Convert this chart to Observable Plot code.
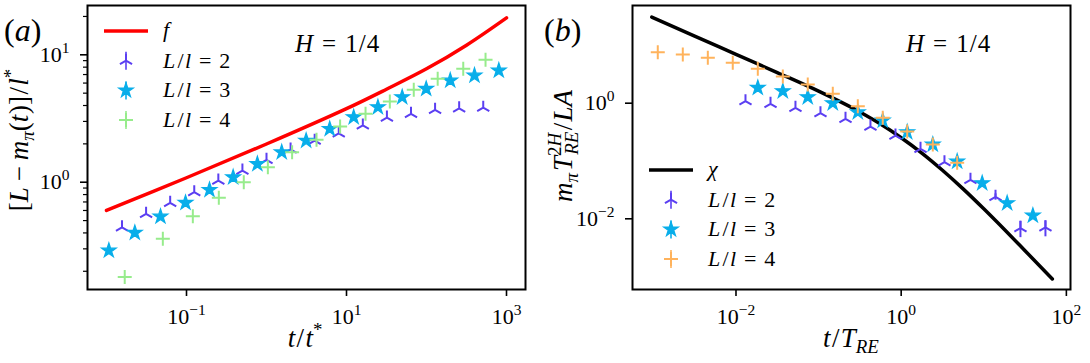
<!DOCTYPE html>
<html><head><meta charset="utf-8">
<script src="https://cdn.jsdelivr.net/npm/d3@7"></script>
<script src="https://cdn.jsdelivr.net/npm/@observablehq/plot@0.6"></script>
<style>
body{margin:0;background:#fff;}
#wrap{position:relative;width:1090px;height:363px;overflow:hidden;background:#fff;}
#wrap > svg{position:absolute;top:0;overflow:visible;}
</style></head><body><div id="wrap"></div>
<script>
const FONT = "'Liberation Serif','DejaVu Serif',serif";
const PURPLE = "#5b3ff2", BLUE = "#08aeea", GREEN = "#97ec8c", ORANGE = "#ffb35c", RED = "#ff0000";

// ---------- Panel (a) data ----------
const fX = [0.01, 0.1, 1, 10, 31.6, 100, 316, 1000];
const fY = [0.600, 1.084, 1.995, 3.78, 5.37, 7.76, 11.9, 19.5];
const a2X = [0.015625, 0.03125, 0.0625, 0.125, 0.25, 0.5, 1, 2, 4, 8, 16, 32, 64, 128, 256, 512];
const a2Y = [0.443, 0.565, 0.689, 0.835, 1.03, 1.235, 1.50, 1.81, 2.12, 2.42, 2.79, 3.22, 3.44, 3.70, 3.80, 3.85];
const a3X = [0.0107, 0.0226, 0.0473, 0.0972, 0.194, 0.383, 0.769, 1.55, 3.13, 6.17, 12.3, 24.7, 49.7, 99.1, 198, 398, 802];
const a3Y = [0.291, 0.401, 0.538, 0.689, 0.871, 1.094, 1.39, 1.72, 2.12, 2.62, 3.24, 3.88, 4.65, 5.41, 6.29, 6.88, 7.53];
const a4X = [0.0169, 0.0506, 0.120, 0.2535, 0.520, 1.04, 2.09, 4.22, 8.32, 17.3, 34.8, 69.3, 138, 288, 547];
const a4Y = [0.180, 0.360, 0.541, 0.755, 1.00, 1.31, 1.72, 2.15, 2.74, 3.44, 4.30, 5.31, 6.48, 7.76, 9.14];

// ---------- Panel (b) data ----------
const chiX = [0.000955, 0.00316, 0.01, 0.0316, 0.1, 0.316, 0.562, 1, 1.778, 3.16, 5.62, 10, 17.78, 31.6, 67.6];
const chiY = [30.8, 14.45, 7.0, 3.39, 1.613, 0.704, 0.4355, 0.2527, 0.1372, 0.0692, 0.03293, 0.01488, 0.00652, 0.002803, 0.000912];
const b2X = [0.01303, 0.02618, 0.05248, 0.1054, 0.2118, 0.4246, 0.853, 1.714, 3.342, 6.90, 13.87, 27.8, 55.8];
const b2Y = [1.084, 0.977, 0.832, 0.671, 0.537, 0.395, 0.276, 0.1626, 0.0953, 0.0473, 0.0240, 0.00692, 0.00708];
const b2Err = [0, 0, 0, 0, 0, 0, 0, 0, 0, 0, 0.003, 0.0022, 0.0022];
const b3X = [0.01837, 0.0369, 0.07396, 0.1486, 0.2985, 0.5984, 1.183, 2.415, 4.764, 9.57, 19.19, 39.3];
const b3Y = [1.845, 1.614, 1.27, 1.0, 0.698, 0.502, 0.315, 0.1928, 0.098, 0.0413, 0.01862, 0.0114];
const b4X = [0.00113, 0.00227, 0.00456, 0.00914, 0.01837, 0.0369, 0.07396, 0.1486, 0.2985, 0.5984, 1.183, 2.415, 4.764];
const b4Y = [7.62, 6.97, 6.10, 5.00, 3.94, 2.90, 2.11, 1.455, 0.887, 0.558, 0.3236, 0.1928, 0.0931];

// ---------- ticks ----------
const xTicksA = [0.1, 10, 1000];
const yTicksA = [1, 10];
const yMinorA = [0.2, 0.3, 0.4, 0.5, 0.6, 0.7, 0.8, 0.9, 2, 3, 4, 5, 6, 7, 8, 9, 20];
const xTicksB = [0.01, 1, 100];
const yTicksB = [0.01, 1];

// ---------- symbols ----------
const triUp = {draw(ctx, size) {const r = Math.sqrt(size / Math.PI);
  ctx.moveTo(0, 0); ctx.lineTo(0, -r); ctx.moveTo(0, 0); ctx.lineTo(-r * 0.866, r * 0.5);
  ctx.moveTo(0, 0); ctx.lineTo(r * 0.866, r * 0.5);}};
const plusS = {draw(ctx, size) {const r = Math.sqrt(size / Math.PI);
  ctx.moveTo(-r, 0); ctx.lineTo(r, 0); ctx.moveTo(0, -r); ctx.lineTo(0, r);}};

const expFmt = d => "10^" + String(Math.round(Math.log10(d))).replace("-", "\u2212");

function axes(xT, yT, minor) {
  const m = [
    Plot.axisX(xT, {anchor: "bottom", tickSize: 7, tickPadding: 12, tickFormat: expFmt, label: null, strokeWidth: 1.6, fontSize: 22}),
    Plot.axisY(yT, {anchor: "left", tickSize: 7, tickPadding: 11, tickFormat: expFmt, label: null, strokeWidth: 1.6, fontSize: 22})
  ];
  if (minor) m.push(Plot.axisY(minor, {anchor: "left", tickSize: 4, tickFormat: () => "", label: null, strokeWidth: 1.2}));
  return m;
}

const common = {width: 545, height: 363, marginLeft: 87, marginRight: 20, marginTop: 5, marginBottom: 74,
  style: {fontFamily: FONT, fontSize: "22px", color: "black", background: "transparent", overflow: "visible"}};

const plotA = Plot.plot({...common,
  x: {type: "log", domain: [10 ** -2.2375, 10 ** 3.2375]},
  y: {type: "log", domain: [10 ** -0.842, 10 ** 1.387]},
  marks: [
    Plot.line(fY, {x: fX, y: fY, stroke: RED, strokeWidth: 3.5, curve: "catmull-rom"}),
    Plot.dot(a2Y, {x: a2X, y: a2Y, symbol: triUp, r: 7, fill: "none", stroke: PURPLE, strokeWidth: 2}),
    Plot.dot(a3Y, {x: a3X, y: a3Y, symbol: d3.symbolStar, r: 4.5, fill: BLUE, stroke: BLUE, strokeWidth: 1.3}),
    Plot.dot(a4Y, {x: a4X, y: a4Y, symbol: plusS, r: 7, fill: "none", stroke: GREEN, strokeWidth: 2}),
    ...axes(xTicksA, yTicksA, yMinorA),
    Plot.frame({stroke: "black", strokeWidth: 2})
  ]});

const b2Idx = d3.range(b2Y.length).filter(i => b2Err[i] > 0);
const plotB = Plot.plot({...common,
  x: {type: "log", domain: [10 ** -3.253, 10 ** 2.05]},
  y: {type: "log", domain: [10 ** -3.223, 10 ** 1.69]},
  marks: [
    Plot.line(chiY, {x: chiX, y: chiY, stroke: "black", strokeWidth: 3.5, curve: "monotone-x"}),
    Plot.ruleX(b2Idx, {x: i => b2X[i], y1: i => b2Y[i] - b2Err[i], y2: i => b2Y[i] + b2Err[i], stroke: PURPLE, strokeWidth: 2}),
    Plot.dot(b2Y, {x: b2X, y: b2Y, symbol: triUp, r: 7, fill: "none", stroke: PURPLE, strokeWidth: 2}),
    Plot.dot(b3Y, {x: b3X, y: b3Y, symbol: d3.symbolStar, r: 4.5, fill: BLUE, stroke: BLUE, strokeWidth: 1.3}),
    Plot.dot(b4Y, {x: b4X, y: b4Y, symbol: plusS, r: 7, fill: "none", stroke: ORANGE, strokeWidth: 2}),
    ...axes(xTicksB, yTicksB, null),
    Plot.frame({stroke: "black", strokeWidth: 2})
  ]});

const wrap = document.getElementById("wrap");
plotA.style.left = "0px"; plotB.style.left = "545px";
wrap.appendChild(plotA); wrap.appendChild(plotB);

const NS = "http://www.w3.org/2000/svg";
function fixTicks(svg) {
  svg.querySelectorAll("text").forEach(t => {
    const m = /^10\^(.+)$/.exec(t.textContent);
    if (!m) return;
    t.textContent = "";
    const a = document.createElementNS(NS, "tspan"); a.textContent = "10"; t.appendChild(a);
    const b = document.createElementNS(NS, "tspan"); b.textContent = m[1];
    b.setAttribute("dy", "-9"); b.setAttribute("font-size", "15.5"); t.appendChild(b);
  });
}
fixTicks(plotA); fixTicks(plotB);

// math-like text in one <text> with tspans: parts {t, i:italic, s:'sup'|'sub', gap, after, dx}
function mtext(svg, x, y, parts, size, anchor = "start", rotate = 0) {
  const t = d3.select(svg).append("text")
    .attr("transform", `translate(${x},${y}) rotate(${rotate})`)
    .attr("font-family", FONT).attr("font-size", size).attr("text-anchor", anchor).attr("fill", "black");
  let shift = 0, pending = 0;
  for (const p of parts) {
    const target = p.s === "sup" ? -0.42 * size : p.s === "sub" ? 0.24 * size : 0;
    const ts = t.append("tspan").attr("font-size", p.s ? size * 0.7 : size)
      .attr("font-style", p.i ? "italic" : "normal").text(p.t);
    const dx = pending + (p.gap || 0) * size + (p.dx || 0);
    if (dx) ts.attr("dx", dx);
    if (target !== shift) ts.attr("dy", target - shift);
    shift = target;
    pending = (p.after || 0) * size;
  }
  return t;
}
const eq = [{t: "=", gap: 0.36, after: 0.36}];
const Ll = n => [{t: "L", i: 1}, {t: "/", gap: 0.1, after: 0.06}, {t: "l", i: 1}, ...eq, {t: n}];

// panel letters
mtext(plotA, 4, 41, [{t: "("}, {t: "a", i: 1}, {t: ")"}], 32);
mtext(plotB, -1, 41, [{t: "("}, {t: "b", i: 1}, {t: ")"}], 32);
// H = 1/4
const Hparts = [{t: "H", i: 1}, ...eq, {t: "1"}, {t: "/", gap: 0.04, after: 0.04}, {t: "4"}];
mtext(plotA, 295, 52, Hparts, 25);
mtext(plotB, 361, 52, Hparts, 25);
// axis labels
mtext(plotA, 305, 347, [{t: "t", i: 1}, {t: "/", gap: 0.05, after: 0.05}, {t: "t", i: 1}, {t: "*", s: "sup"}], 27, "middle");
mtext(plotB, 306, 347, [{t: "t", i: 1}, {t: "/", gap: 0.05, after: 0.05}, {t: "T", i: 1}, {t: "RE", i: 1, s: "sub"}], 27, "middle");
mtext(plotA, 28, 140, [{t: "["}, {t: "L", i: 1}, {t: "\u2212", gap: 0.22, after: 0.22}, {t: "m", i: 1}, {t: "\u03c0", i: 1, s: "sub"},
  {t: "("}, {t: "t", i: 1}, {t: ")]", gap: 0.03}, {t: "/", gap: 0.05, after: 0.05}, {t: "l", i: 1}, {t: "*", s: "sup"}], 27, "middle", -90);
mtext(plotB, 27, 146, [{t: "m", i: 1}, {t: "\u03c0", i: 1, s: "sub", after: 0.08}, {t: "T", i: 1},
  {t: "2", s: "sup"}, {t: "H", i: 1, s: "sup"}, {t: "RE", i: 1, s: "sub", dx: -22}, {t: "/", gap: 0.05, after: 0.05}, {t: "L", i: 1}, {t: "A", i: 1}],
  27, "middle", -90);

// legends
function legend(svg, lineColor, lineLabel, color4, y0) {
  const s = d3.select(svg);
  const step = 29.7, mx = 126, tx = 163;
  s.append("line").attr("x1", 104).attr("x2", 148).attr("y1", y0).attr("y2", y0).attr("stroke", lineColor).attr("stroke-width", 3.5);
  mtext(svg, tx, y0 + 6, lineLabel, 22);
  const rows = [[triUp, 7, "none", PURPLE, 2, "2"], [d3.symbolStar, 4.5, BLUE, BLUE, 1.3, "3"], [plusS, 7, "none", color4, 2, "4"]];
  rows.forEach((r, k) => {
    const y = y0 + step * (k + 1);
    s.append("line").attr("x1", mx).attr("x2", mx).attr("y1", y - 9).attr("y2", y + 9).attr("stroke", r[3]).attr("stroke-width", 1.6);
    s.append("path").attr("d", d3.symbol(r[0], Math.PI * r[1] * r[1])()).attr("transform", `translate(${mx},${y})`)
      .attr("fill", r[2]).attr("stroke", r[3]).attr("stroke-width", r[4]);
    mtext(svg, tx, y + 7, Ll(r[5]), 22);
  });
}
legend(plotA, RED, [{t: "f", i: 1}], GREEN, 31);
legend(plotB, "black", [{t: "\u03c7", i: 1}], ORANGE, 170);
</script></body></html>
